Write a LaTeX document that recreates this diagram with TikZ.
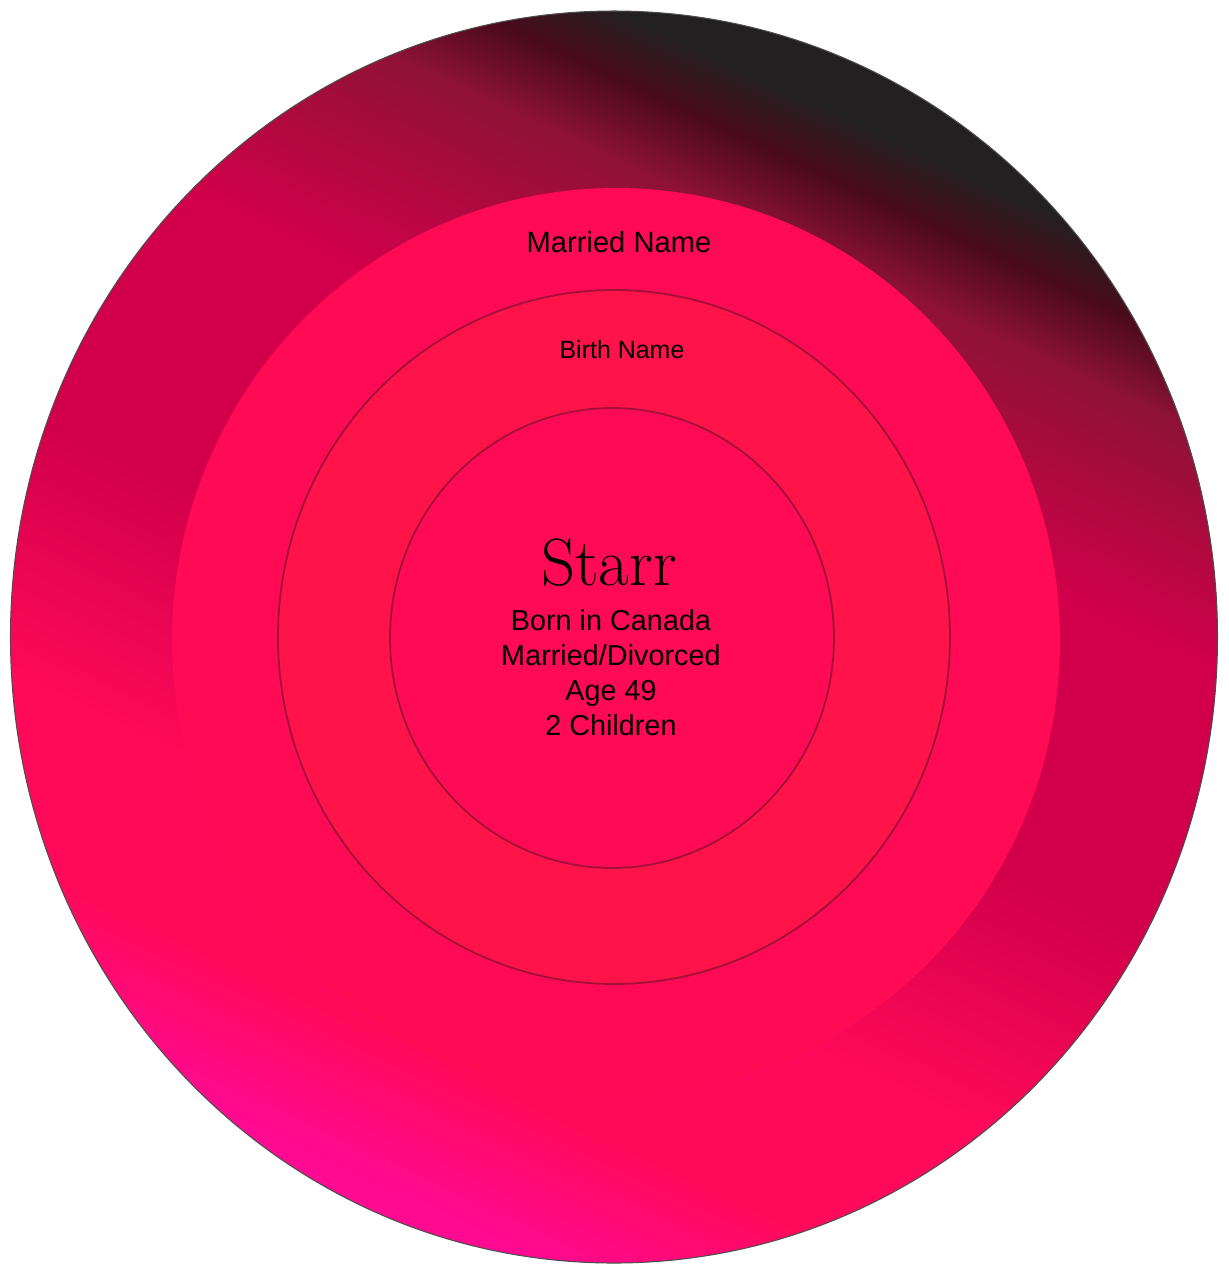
\documentclass[tikz,border=0pt]{standalone}
\usepackage{fontspec}
\setsansfont{Liberation Sans}
\usepackage{tikz}
\usetikzlibrary{positioning}
\definecolor{glowmag}{HTML}{FF0A90}
\definecolor{glowpink}{HTML}{FF0A5A}
\definecolor{glowcrim}{HTML}{D2004A}
\definecolor{glowmaroon}{HTML}{8E1236}
\definecolor{glowdark}{HTML}{4A0A1C}
\definecolor{glowblack}{HTML}{222021}
\definecolor{ringpink}{HTML}{FF0A55}
\definecolor{ringred}{HTML}{FF1348}
\definecolor{ringline}{HTML}{A01038}
\pgfdeclarehorizontalshading{outerglow}{100bp}{color(0bp)=(glowmag); color(26bp)=(glowmag); color(31.5bp)=(glowpink); color(38bp)=(glowpink); color(48bp)=(glowcrim); color(59bp)=(glowcrim); color(67.5bp)=(glowmaroon); color(70.5bp)=(glowdark); color(73bp)=(glowblack); color(100bp)=(glowblack)}

\begin{document}
\begin{tikzpicture}[
  x=0.01cm, y=-0.01cm,
  ringlabel/.style={font=\sffamily\fontsize{8.3}{10}\selectfont, text=black, inner sep=1pt},
  namelabel/.style={font=\rmfamily\fontsize{19}{22}\selectfont, text=black, inner sep=1pt},
  factlabel/.style={font=\sffamily\fontsize{8.2}{9.96}\selectfont, text=black, align=center, inner sep=1pt},
  ringedge/.style={draw=ringline, line width=0.5pt},
]
\useasboundingbox (0,0) rectangle (1229,1265);
\def\cx{614} \def\cy{637}
% outer ring
\shade[shading=outerglow, shading angle=65, draw=glowblack!80, line width=0.3pt]
  (\cx,\cy) ellipse [x radius=603.5, y radius=626];
% married name ring
\fill[ringpink] (616,641) ellipse [x radius=444, y radius=453];
% birth name ring
\filldraw[fill=ringred, ringedge] (\cx,\cy) ellipse [x radius=336, y radius=347];
% core
\filldraw[fill=ringpink, ringedge] (612,638) ellipse [x radius=222, y radius=230];
% labels
\node[ringlabel] (married) at (619,242) {Married Name};
\node[ringlabel, font=\sffamily\fontsize{7.1}{9}\selectfont] (birth) at (622,350) {Birth Name};
\node[namelabel] (starr) at (609,563) {Starr};
\node[factlabel] (facts) at (611,673) {Born in Canada\\Married/Divorced\\Age 49\\2 Children};
\end{tikzpicture}
\end{document}
